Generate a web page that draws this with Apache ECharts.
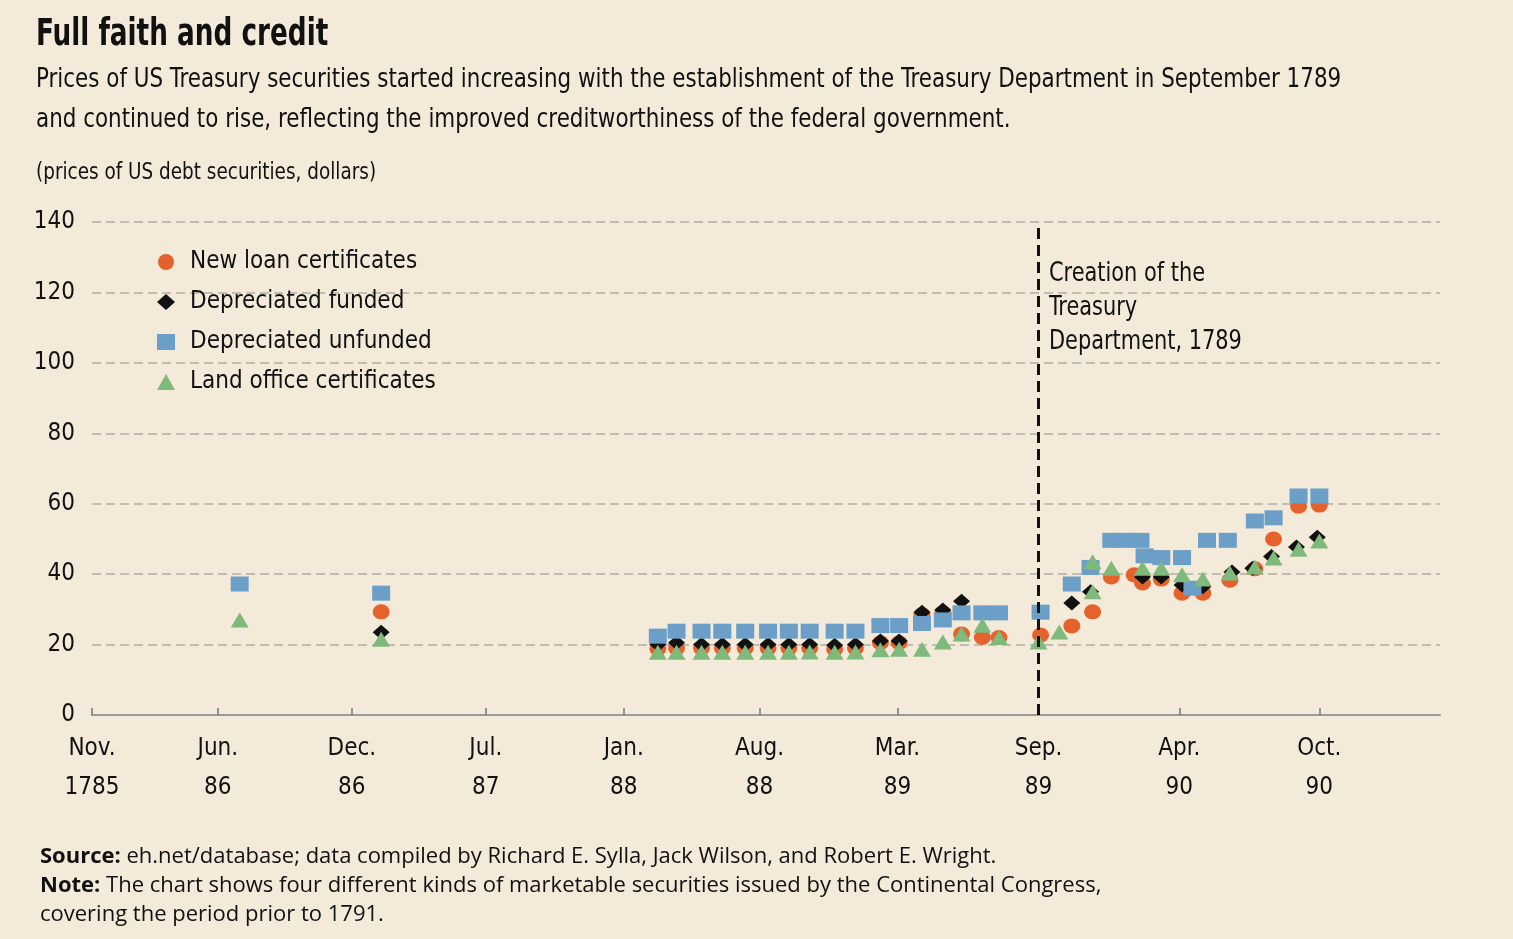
<!DOCTYPE html>
<html>
<head>
<meta charset="utf-8">
<script src="https://cdn.jsdelivr.net/npm/echarts@6/dist/echarts.min.js"></script>
<style>
  html, body { margin: 0; padding: 0; background: #f3ead9; }
  #chart { width: 1513px; height: 939px; }
</style>
</head>
<body>
<div id="chart"></div>
<script>
// x values are months after Nov. 1785, as the chart spaces them
var tickPos = [0, 6.05, 12.49, 18.93, 25.56, 32.09, 38.72, 45.5, 52.27, 59];
var tickLabels = ['Nov.\n1785', 'Jun.\n86', 'Dec.\n86', 'Jul.\n87', 'Jan.\n88', 'Aug.\n88', 'Mar.\n89', 'Sep.\n89', 'Apr.\n90', 'Oct.\n90'];
var treasuryAt = 45.5;

var newLoan = [
  [13.9, 29.3], [27.2, 18.8], [28.1, 19], [29.3, 19], [30.3, 19], [31.4, 19], [32.5, 19],
  [33.5, 19], [34.5, 19], [35.7, 18.7], [36.7, 19], [37.9, 20.5], [38.8, 20.5], [39.9, 28.5],
  [40.9, 29], [41.8, 23], [42.8, 22], [43.6, 22], [45.6, 22.7], [47.1, 25.3], [48.1, 29.3],
  [49.0, 39.2], [50.1, 39.8], [50.5, 37.5], [51.4, 38.6], [52.4, 34.6], [53.4, 34.6],
  [54.7, 38.3], [55.9, 41.5], [56.8, 50], [58.0, 59.3], [59.0, 59.6]
];
var depFunded = [
  [13.9, 23.5], [27.2, 20], [28.1, 20.5], [29.3, 20], [30.3, 20], [31.4, 20], [32.5, 20],
  [33.5, 20], [34.5, 20], [35.7, 19.8], [36.7, 20], [37.9, 21], [38.8, 21], [39.9, 29.2],
  [40.9, 29.8], [41.8, 32.3], [47.1, 31.8], [48.0, 35], [50.5, 39.2], [51.4, 39.2],
  [52.4, 36.9], [53.4, 36.4], [54.8, 40.6], [55.8, 41.7], [56.7, 45], [57.9, 47.7], [58.9, 50.5]
];
var depUnfunded = [
  [7.1, 37.2], [13.9, 34.6], [27.2, 22.4], [28.1, 23.8], [29.3, 23.8], [30.3, 23.8], [31.4, 23.8],
  [32.5, 23.8], [33.5, 23.8], [34.5, 23.8], [35.7, 23.8], [36.7, 23.8], [37.9, 25.4], [38.8, 25.4],
  [39.9, 26], [40.9, 27], [41.8, 29], [42.8, 29], [43.6, 29], [45.6, 29.2], [47.1, 37.2],
  [48.0, 41.9], [49.0, 49.6], [49.7, 49.6], [50.4, 49.6], [50.6, 45.2], [51.4, 44.7],
  [52.4, 44.7], [52.9, 36], [53.6, 49.6], [54.6, 49.6], [55.9, 55.1], [56.8, 56], [58.0, 62.2], [59.0, 62.2]
];
var landOffice = [
  [7.1, 27], [13.9, 21.5], [27.2, 17.8], [28.1, 17.8], [29.3, 17.8], [30.3, 17.8], [31.4, 17.8],
  [32.5, 17.8], [33.5, 17.8], [34.5, 17.9], [35.7, 17.8], [36.7, 17.9], [37.9, 18.5], [38.8, 18.7],
  [39.9, 18.7], [40.9, 20.7], [41.8, 23], [42.8, 25.5], [43.6, 22], [45.5, 20.7], [46.5, 23.6],
  [48.1, 43.5], [48.1, 35], [49.0, 41.7], [50.5, 41.7], [51.4, 41.7], [52.4, 39.8], [53.4, 38.6],
  [54.7, 40.3], [55.9, 42], [56.8, 44.6], [58.0, 47.1], [59.0, 49.4]
];

var narrow = "'DejaVu Sans Condensed', 'Liberation Sans Narrow', sans-serif";
var body = "'Open Sans', 'Liberation Sans', sans-serif";

var chart = echarts.init(document.getElementById('chart'));

function scatter(name, data, symbol, size, color) {
  return {
    name: name,
    type: 'scatter',
    data: data,
    symbol: symbol,
    symbolSize: size,
    itemStyle: { color: color, opacity: 1 },
    emphasis: { disabled: true }
  };
}

var series = [
  scatter('New loan certificates', newLoan, 'circle', [17, 15], '#e6622c'),
  scatter('Depreciated funded', depFunded, 'diamond', [17, 15], '#111111'),
  scatter('Depreciated unfunded', depUnfunded, 'rect', [18, 15], '#6c9fc7'),
  scatter('Land office certificates', landOffice, 'triangle', [18, 15], '#7fb97b')
];
// dashed line for the Treasury Department
series[3].markLine = {
  silent: true,
  symbol: 'none',
  label: { show: false },
  lineStyle: { color: '#111', width: 3, type: [11, 6] },
  data: [[{ coord: [treasuryAt, 0] }, { coord: [treasuryAt, 140] }]]
};

// text squeezed sideways to get close to the condensed face of the original
function label(x, y, text, size, sx, extra) {
  var style = { text: text, font: size + 'px ' + narrow, fill: '#111', verticalAlign: 'middle' };
  for (var k in extra) style[k] = extra[k];
  return { type: 'text', x: x, y: y, scaleX: sx, style: style };
}

function footLine(y, text) {
  return {
    type: 'text', x: 40, y: y,
    style: {
      text: text,
      font: '22px ' + body, fill: '#111', verticalAlign: 'middle',
      rich: { b: { fontWeight: 'bold', fontFamily: body, fontSize: 22 } }
    }
  };
}

var option = {
  backgroundColor: '#f3ead9',
  animation: false,
  grid: { left: 92, right: 73, top: 222, bottom: 224 },
  legend: {
    orient: 'vertical',
    left: 157,
    top: 249,
    padding: 0,
    itemWidth: 18,
    itemHeight: 16,
    itemGap: 14,
    selectedMode: false,
    textStyle: { fontFamily: narrow, fontSize: 24, lineHeight: 26, color: '#111', padding: [0, 0, 0, 10] },
    data: series.map(function (s) { return s.name; })
  },
  xAxis: {
    type: 'value',
    min: 0,
    max: 64.8,
    splitLine: { show: false },
    axisLine: { lineStyle: { color: '#9c9a96', width: 2 } },
    axisTick: { inside: true, length: 7, customValues: tickPos, lineStyle: { color: '#777', width: 1.5 } },
    axisLabel: {
      customValues: tickPos,
      margin: 14,
      fontFamily: narrow,
      fontSize: 24,
      lineHeight: 39,
      color: '#111',
      formatter: function (v) {
        var i = tickPos.indexOf(v);
        return i >= 0 ? tickLabels[i] : '';
      }
    }
  },
  yAxis: {
    type: 'value',
    min: 0,
    max: 140,
    interval: 20,
    axisLine: { show: false },
    axisTick: { show: false },
    axisLabel: { margin: 17, fontFamily: narrow, fontSize: 24, color: '#111' },
    splitLine: { lineStyle: { color: '#b3afa7', width: 1.5, type: [9, 5] } }
  },
  graphic: [
    label(36, 35, 'Full faith and credit', 37, 0.79, { font: 'bold 37px ' + narrow }),
    label(36, 60, 'Prices of US Treasury securities started increasing with the establishment of the Treasury Department in September 1789\nand continued to rise, reflecting the improved creditworthiness of the federal government.',
      27, 0.883, { lineHeight: 40, verticalAlign: 'top' }),
    label(36, 173, '(prices of US debt securities, dollars)', 23, 0.89),
    label(1049, 257, 'Creation of the\nTreasury\nDepartment, 1789', 27, 0.86, { lineHeight: 34, verticalAlign: 'top' }),
    footLine(857, '{b|Source:} eh.net/database; data compiled by Richard E. Sylla, Jack Wilson, and Robert E. Wright.'),
    footLine(886, '{b|Note:} The chart shows four different kinds of marketable securities issued by the Continental Congress,'),
    footLine(915, 'covering the period prior to 1791.')
  ],
  series: series
};

chart.setOption(option);
</script>
</body>
</html>
